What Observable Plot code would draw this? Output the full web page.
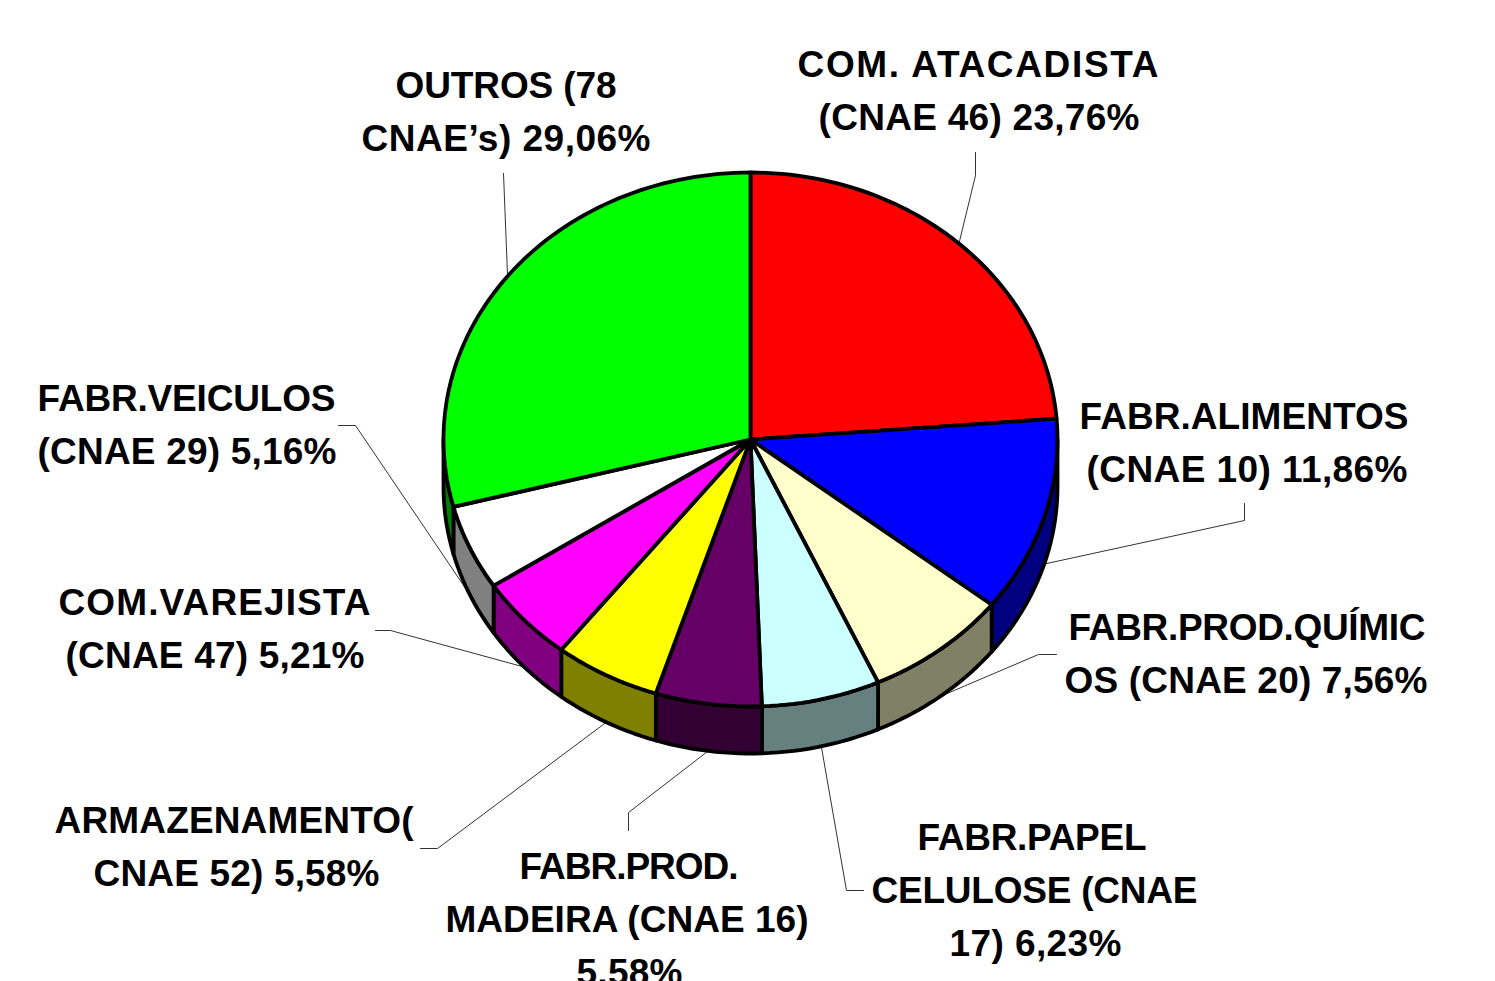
<!DOCTYPE html>
<html>
<head>
<meta charset="utf-8">
<style>html,body{margin:0;padding:0;background:#fff;overflow:hidden}svg{display:block}</style>
<script src="https://cdn.jsdelivr.net/npm/d3@7"></script>
<script src="https://cdn.jsdelivr.net/npm/@observablehq/plot@0.6"></script>
</head>
<body>
<div id="chart"></div>
<script>
// Values
const names = ["COM. ATACADISTA","FABR.ALIMENTOS","FABR.PROD.QUÍMICOS","FABR.PAPEL CELULOSE","FABR.PROD. MADEIRA","ARMAZENAMENTO","COM.VAREJISTA","FABR.VEICULOS","OUTROS"];
const shares = [23.76,11.86,7.56,6.23,5.58,5.58,5.21,5.16,29.06];
const topColors = ["#ff0000","#0000ff","#ffffcc","#ccffff","#660066","#ffff00","#ff00ff","#ffffff","#00ff00"];
const sideColors = ["#800000","#000080","#808066","#668080","#330033","#808000","#800080","#808080","#008000"];
const labelLines = [
  ["COM. ATACADISTA","(CNAE 46) 23,76%"],
  ["FABR.ALIMENTOS","(CNAE 10) 11,86%"],
  ["FABR.PROD.QUÍMIC","OS (CNAE 20) 7,56%"],
  ["FABR.PAPEL","CELULOSE (CNAE","17) 6,23%"],
  ["FABR.PROD.","MADEIRA (CNAE 16)","5,58%"],
  ["ARMAZENAMENTO(","CNAE 52) 5,58%"],
  ["COM.VAREJISTA","(CNAE 47) 5,21%"],
  ["FABR.VEICULOS","(CNAE 29) 5,16%"],
  ["OUTROS (78","CNAE’s) 29,06%"]
];
// Layout
const W = 1495, H = 981;
const cx = 750, cy = 439, rx = 307, ry = 267, depth = 47;
const lineSpans = [
  [[797,1158],[818,1139]],
  [[1079,1408],[1086,1407]],
  [[1068,1425],[1064,1427]],
  [[917,1146],[871,1197],[949,1121]],
  [[519,738],[445,808],[576,682]],
  [[54,413],[93,379]],
  [[58,370],[65,364]],
  [[37,335],[37,336]],
  [[395,616],[361,650]]
];
const labelY = [76,428,639,849,878,832,614,410,97];
const lineStep = 53;
const leaderPaths = [
  [[975,152],[975,175]],
  [[1244,503],[1244,520]],
  [[1056,654],[1038,654]],
  [[863,890],[846,890]],
  [[628,830],[628,812]],
  [[420,848],[437,848]],
  [[375,630],[390,630]],
  [[338,425],[355,425]],
  [[503,173]]
];

const rad = d => d * Math.PI / 180;
const px = a => cx + rx * Math.sin(rad(a));
const py = a => cy - ry * Math.cos(rad(a));
const ends = d3.cumsum(shares).map(s => s * 3.6);
const starts = ends.map((e, i) => i ? ends[i - 1] : 0);
const arc = (a0, a1) => {
  const n = Math.max(1, Math.ceil((a1 - a0) / 1.5));
  return d3.range(n + 1).map(k => a0 + (a1 - a0) * k / n);
};

const tops = shares.flatMap((_, i) => {
  const pts = [[cx, cy], ...arc(starts[i], ends[i]).map(a => [px(a), py(a)]), [cx, cy]];
  return pts.map(([x, y]) => ({x, y, id: i, color: topColors[i]}));
});
const sides = shares.flatMap((_, i) => {
  const a0 = Math.max(starts[i], 90), a1 = Math.min(ends[i], 270);
  if (a1 <= a0) return [];
  const as = arc(a0, a1);
  const pts = [...as.map(a => [px(a), py(a)]), ...as.slice().reverse().map(a => [px(a), py(a) + depth])];
  pts.push(pts[0]);
  return pts.map(([x, y]) => ({x, y, id: i, color: sideColors[i]}));
});
const leaders = shares.flatMap((_, i) => {
  const mid = (starts[i] + ends[i]) / 2;
  const front = mid > 90 && mid < 270;
  const anchor = [px(mid), py(mid) + (front ? depth : 0)];
  return [...leaderPaths[i], anchor].map(([x, y]) => ({x, y, id: i}));
});
const textRows = labelLines.flatMap((lines, i) =>
  lines.map((text, k) => ({
    text,
    x: (lineSpans[i][k][0] + lineSpans[i][k][1]) / 2,
    y: labelY[i] + k * lineStep,
    width: lineSpans[i][k][1] - lineSpans[i][k][0]
  }))
);

const chart = Plot.plot({
  width: W, height: H, margin: 0,
  x: {domain: [0, W], range: [0, W], axis: null},
  y: {domain: [0, H], range: [0, H], axis: null},
  color: {type: "identity"},
  marks: [
    Plot.line(leaders, {x: "x", y: "y", z: "id", stroke: "#333", strokeWidth: 1}),
    Plot.line(sides, {x: "x", y: "y", z: "id", fill: "color", stroke: "#000", strokeWidth: 3.8, strokeLinejoin: "round"}),
    Plot.line(tops, {x: "x", y: "y", z: "id", fill: "color", stroke: "#000", strokeWidth: 3.8, strokeLinejoin: "round"}),
    Plot.text(textRows, {x: "x", y: "y", text: "text", lineAnchor: "bottom", textAnchor: "middle",
      fontFamily: "'Liberation Sans', Arial, sans-serif", fontWeight: "bold", fontSize: 37, fill: "#000"})
  ],
  style: {background: "#fff"}
});
document.getElementById("chart").appendChild(chart);
// Fit each label line to the width it occupies in the source chart
const byText = new Map(textRows.map(r => [r.text, r.width]));
chart.querySelectorAll("text").forEach(t => {
  const w = byText.get(t.textContent);
  if (w) { t.setAttribute("textLength", w); t.setAttribute("lengthAdjust", "spacing"); }
});
</script>
</body>
</html>
